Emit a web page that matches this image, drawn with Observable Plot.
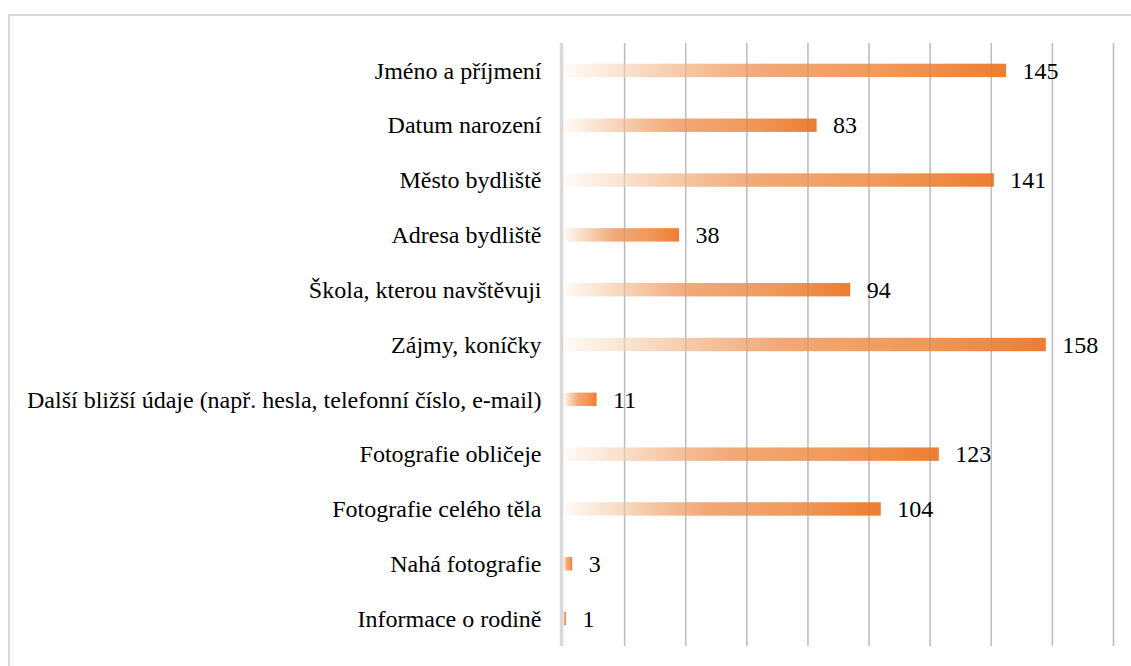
<!DOCTYPE html>
<html><head><meta charset="utf-8">
<script src="https://cdn.jsdelivr.net/npm/d3@7"></script>
<script src="https://cdn.jsdelivr.net/npm/@observablehq/plot@0.6"></script>
<style>
html,body{margin:0;padding:0;background:#fff;overflow:hidden;}
#wrap{position:relative;width:1131px;height:666px;}
#border{position:absolute;left:8px;top:14px;width:1140px;height:700px;border:2px solid #dadada;box-sizing:border-box;}
#chart{position:absolute;left:0;top:0;}
</style></head>
<body><div id="wrap"><div id="border"></div><div id="chart"></div></div>
<script>
const categories = ["Jméno a příjmení","Datum narození","Město bydliště","Adresa bydliště","Škola, kterou navštěvuji","Zájmy, koníčky","Další bližší údaje (např. hesla, telefonní číslo, e-mail)","Fotografie obličeje","Fotografie celého těla","Nahá fotografie","Informace o rodině"];
const values = [145,83,141,38,94,158,11,123,104,3,1];
const gridTicks = [20,40,60,80,100,120,140,160,180];
const data = categories.map((c,i)=>({cat:c, value:values[i]}));
const font = "'Liberation Serif','Times New Roman',serif";

const chart = Plot.plot({
  width:1131, height:666,
  marginLeft:563, marginRight:18, marginTop:43, marginBottom:20,
  style:{fontFamily:font, background:"transparent"},
  x:{domain:[0,180], axis:null},
  y:{domain:categories, axis:null, round:false, paddingInner:0.755, paddingOuter:0.3775},
  marks:[
    Plot.ruleX(gridTicks, {stroke:"#d0d0d0", strokeWidth:1.5}),
    Plot.barX(data, {x:"value", y:"cat", fill:"url(#barGrad)"}),
    Plot.ruleX(gridTicks, {stroke:"#888", strokeOpacity:0.25, strokeWidth:1.5}),
    Plot.ruleX([0], {stroke:"#d9d9d9", strokeWidth:3.5, dx:-2}),
    Plot.text(data, {x:0, y:"cat", text:"cat", textAnchor:"end", dx:-22, fontSize:24, fontFamily:font, fill:"#000"}),
    Plot.text(data, {x:"value", y:"cat", text:d=>String(d.value), textAnchor:"start", dx:16, fontSize:24, fontFamily:font, fill:"#000"})
  ]
});
const svg = d3.select(chart);
const defs = svg.insert("defs",":first-child");
const g = defs.append("linearGradient").attr("id","barGrad").attr("x1",0).attr("x2",1).attr("y1",0).attr("y2",0);
[[0,"#fffbf8"],[0.15,"#f9e0cc"],[0.3,"#f5c29d"],[0.45,"#f2a877"],[0.75,"#f09858"],[1,"#ed7d31"]].forEach(([o,c])=>g.append("stop").attr("offset",o).attr("stop-color",c));
document.getElementById("chart").appendChild(chart);
</script></body></html>
